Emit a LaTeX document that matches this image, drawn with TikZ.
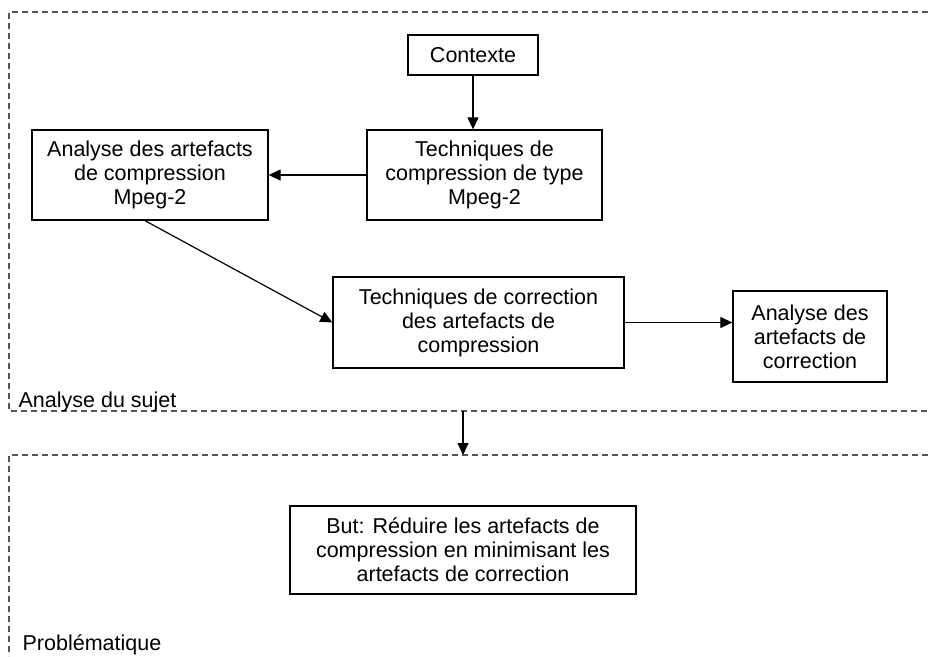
\documentclass[tikz,border=0pt]{standalone}
\usepackage{fontspec}
\setmainfont{Liberation Sans}
\usetikzlibrary{arrows.meta, calc}
\definecolor{cgrey}{HTML}{555555}
\tikzset{
  every picture/.style={font=\fontsize{21.5}{24}\selectfont, line width=1.3pt},
  box/.style={draw=black, align=center, inner sep=0pt},
  arrow/.style={-{Triangle[length=12pt, width=11pt]}, draw=black, line width=1.2pt},
  frame/.style={draw=cgrey, dash pattern=on 6pt off 4pt, line width=1.3pt},
  tag/.style={anchor=base west, inner sep=0pt},
}

\begin{document}
\begin{tikzpicture}[x=1pt, y=-1pt]
  \useasboundingbox (0,0) rectangle (928,656);
  % ---------------- frames
  \draw[frame] (928,12) -- (9,12) -- (9,411) -- (928,411);
  \draw[frame] (928,455) -- (9,455) -- (9,656);
  \coordinate (sujet) at (463,411);
  \coordinate (probl) at (463,455);
  \node[tag] (tsujet) at (18,407) {Analyse du sujet};
  \node[tag] (tprobl) at (22,650) {Problématique};
  % ---------------- top frame: analyse du sujet
  \node[box, minimum width=130, minimum height=40] (contexte) at (473,55) {Contexte};
  \node[box, minimum width=235, minimum height=90] (techcomp) at (484.5,175) {Techniques de\\compression de type\\Mpeg-2};
  \node[box, minimum width=236, minimum height=90] (anacomp) at (150,175) {Analyse des artefacts\\de compression\\Mpeg-2};
  \node[box, minimum width=291, minimum height=91] (techcorr) at (478.5,322.5) {Techniques de correction\\des artefacts de\\compression};
  \node[box, minimum width=154, minimum height=91] (anacorr) at (810,336.5) {Analyse des\\artefacts de\\correction};
  % ---------------- bottom frame: problematique
  \node[box, minimum width=346, minimum height=88] (but) at (463,550) {But: Réduire les artefacts de\\compression en minimisant les\\artefacts de correction};
  % ---------------- arrows
  \draw[arrow] (contexte) -- (contexte.south |- techcomp.north);
  \draw[arrow] (techcomp) -- (anacomp);
  \draw[arrow] ([xshift=-5]anacomp.south) -- (techcorr.west);
  \draw[arrow] (techcorr.east) -- (techcorr.east -| anacorr.west);
  \draw[arrow] (sujet) -- (probl);
\end{tikzpicture}
\end{document}
